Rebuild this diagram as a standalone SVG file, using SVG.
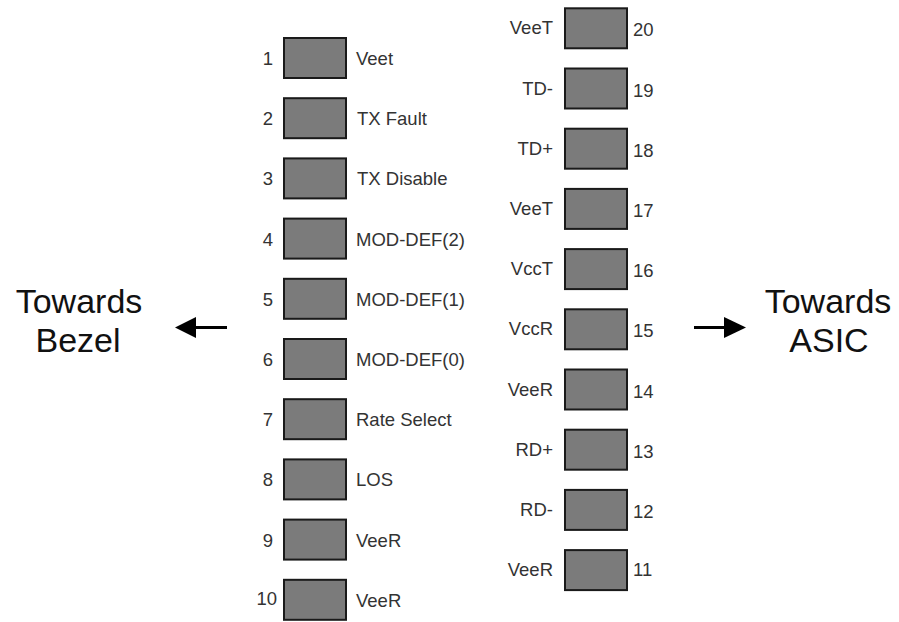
<svg xmlns="http://www.w3.org/2000/svg" width="899" height="622" viewBox="0 0 899 622">
<style>
.pin{fill:#7b7b7b;stroke:#1a1a1a;stroke-width:2}
text{font-family:"Liberation Sans",Arial,sans-serif;font-size:18.5px;fill:#333}
.big{font-size:34px;text-anchor:middle;fill:#111}
.e{text-anchor:end}
</style>
<rect width="899" height="622" fill="#fff"/>
<g id="left-pins">
<g id="pin1"><rect class="pin" x="284" y="38" width="62" height="40"/><text class="e" x="273" y="65">1</text><text x="356" y="65">Veet</text></g>
<g id="pin2"><rect class="pin" x="284" y="98.2" width="62" height="40"/><text class="e" x="273" y="125.2">2</text><text x="357" y="125.2">TX Fault</text></g>
<g id="pin3"><rect class="pin" x="284" y="158.4" width="62" height="40"/><text class="e" x="273" y="185.4">3</text><text x="357" y="185.4">TX Disable</text></g>
<g id="pin4"><rect class="pin" x="284" y="218.6" width="62" height="40"/><text class="e" x="273" y="245.6">4</text><text x="356" y="245.6">MOD-DEF(2)</text></g>
<g id="pin5"><rect class="pin" x="284" y="278.8" width="62" height="40"/><text class="e" x="273" y="305.8">5</text><text x="356" y="305.8">MOD-DEF(1)</text></g>
<g id="pin6"><rect class="pin" x="284" y="339" width="62" height="40"/><text class="e" x="273" y="366">6</text><text x="356" y="366">MOD-DEF(0)</text></g>
<g id="pin7"><rect class="pin" x="284" y="399.2" width="62" height="40"/><text class="e" x="273" y="426.2">7</text><text x="356" y="426.2">Rate Select</text></g>
<g id="pin8"><rect class="pin" x="284" y="459.4" width="62" height="40"/><text class="e" x="273" y="486.4">8</text><text x="356" y="486.4">LOS</text></g>
<g id="pin9"><rect class="pin" x="284" y="519.6" width="62" height="40"/><text class="e" x="273" y="546.6">9</text><text x="356" y="546.6">VeeR</text></g>
<g id="pin10"><rect class="pin" x="284" y="579.8" width="62" height="40"/><text class="e" x="277" y="604.8">10</text><text x="356" y="606.8">VeeR</text></g>
</g>
<g id="right-pins">
<g id="pin20"><rect class="pin" x="565" y="8.3" width="62" height="40"/><text class="e" x="553" y="34.3">VeeT</text><text x="633" y="36.3">20</text></g>
<g id="pin19"><rect class="pin" x="565" y="68.5" width="62" height="40"/><text class="e" x="553" y="94.5">TD-</text><text x="633" y="96.5">19</text></g>
<g id="pin18"><rect class="pin" x="565" y="128.7" width="62" height="40"/><text class="e" x="553" y="154.7">TD+</text><text x="633" y="156.7">18</text></g>
<g id="pin17"><rect class="pin" x="565" y="188.9" width="62" height="40"/><text class="e" x="553" y="214.9">VeeT</text><text x="633" y="216.9">17</text></g>
<g id="pin16"><rect class="pin" x="565" y="249.1" width="62" height="40"/><text class="e" x="553" y="275.1">VccT</text><text x="633" y="277.1">16</text></g>
<g id="pin15"><rect class="pin" x="565" y="309.3" width="62" height="40"/><text class="e" x="553" y="335.3">VccR</text><text x="633" y="337.3">15</text></g>
<g id="pin14"><rect class="pin" x="565" y="369.5" width="62" height="40"/><text class="e" x="553" y="395.5">VeeR</text><text x="633" y="397.5">14</text></g>
<g id="pin13"><rect class="pin" x="565" y="429.7" width="62" height="40"/><text class="e" x="553" y="455.7">RD+</text><text x="633" y="457.7">13</text></g>
<g id="pin12"><rect class="pin" x="565" y="489.9" width="62" height="40"/><text class="e" x="553" y="515.9">RD-</text><text x="633" y="517.9">12</text></g>
<g id="pin11"><rect class="pin" x="565" y="550.1" width="62" height="40"/><text class="e" x="553" y="576.1">VeeR</text><text x="633" y="576.1">11</text></g>
</g>
<g id="bezel"><text class="big" x="79" y="313">Towards</text><text class="big" x="78" y="352">Bezel</text></g>
<g id="asic"><text class="big" x="828" y="313">Towards</text><text class="big" x="829" y="352">ASIC</text></g>
<g id="connectors" fill="#000" stroke="#000">
<line x1="227" y1="327.5" x2="193" y2="327.5" stroke-width="3"/>
<polygon points="175,327.5 196,317 196,338" stroke="none"/>
<line x1="694" y1="327.5" x2="727" y2="327.5" stroke-width="3"/>
<polygon points="746,327.5 724,317 724,338" stroke="none"/>
</g>
</svg>
